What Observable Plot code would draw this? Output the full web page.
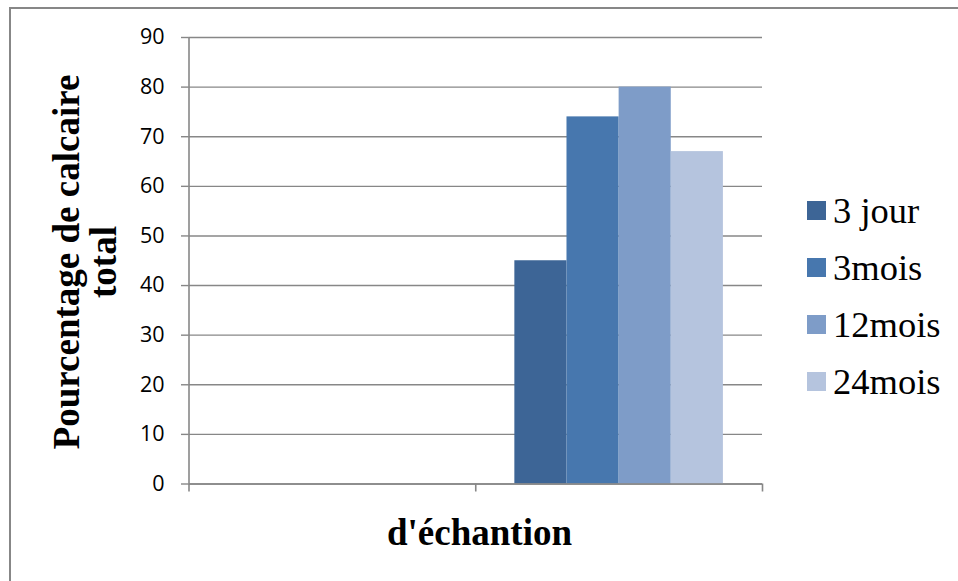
<!DOCTYPE html>
<html>
<head>
<meta charset="utf-8">
<script src="https://cdn.jsdelivr.net/npm/d3@7"></script>
<script src="https://cdn.jsdelivr.net/npm/@observablehq/plot@0.6"></script>
<style>
  body { margin: 0; background: #fff; }
  #chart { position: relative; width: 958px; height: 581px; overflow: hidden; background: #fff; }
  #chart svg { position: absolute; left: 0; top: 0; background: transparent; }
  .frame { position: absolute; left: 9px; top: 7px; width: 2000px; height: 2000px;
           border-left: 2px solid #878787; border-top: 2px solid #878787; }
  .ytitle, .xtitle, .lab { font-family: "Liberation Serif", "Times New Roman", serif; color: #000; }
  .ytitle { position: absolute; width: 500px; height: 74px; line-height: 37px; font-size: 37px;
            font-weight: bold; text-align: center; white-space: nowrap;
            left: calc(85px - 250px); top: calc(261.5px - 37px); transform: rotate(-90deg); }
  .xtitle { position: absolute; left: calc(479.5px - 300px); width: 600px; top: 512.5px;
            line-height: 40px; font-size: 37px; font-weight: bold; text-align: center; }
  .sw { position: absolute; left: 807px; width: 19px; height: 19px; }
  .lab { position: absolute; left: 833px; line-height: 40px; font-size: 36.5px; white-space: pre; }
</style>
</head>
<body>
<div id="chart"></div>
<script>
// Sample categories (unlabelled on the axis) and the four ageing series
const categories = ["", ""];
const series = ["3 jour", "3mois", "12mois", "24mois"];
const jour3  = [null, 45];
const mois3  = [null, 74];
const mois12 = [null, 80];
const mois24 = [null, 67];
const yTicks = [0, 10, 20, 30, 40, 50, 60, 70, 80, 90];
const colors = ["#3d6596", "#4777ae", "#7e9cc8", "#b5c4de"];

const seriesValues = [jour3, mois3, mois12, mois24];
const serifFont = '"Liberation Serif", "Times New Roman", serif';

// Clustered-column layout: bars side by side, with a gap of 150% of a bar width per category
const gapWidth = 1.5;
const barW = 1 / (series.length + gapWidth);
const rows = [];
categories.forEach((c, ci) => {
  series.forEach((s, si) => {
    const v = seriesValues[si][ci];
    if (v == null) return;
    const x1 = ci + (gapWidth / 2 + si) * barW;
    rows.push({category: c, series: s, value: v, x1, x2: x1 + barW});
  });
});

const axisGray = "#878787";

const plot = Plot.plot({
  width: 958,
  height: 581,
  marginLeft: 188.5,
  marginRight: 196,
  marginTop: 37,
  marginBottom: 97.5,
  style: {background: "transparent", fontFamily: "'Open Sans', sans-serif", color: "#000"},
  x: {domain: [0, categories.length], axis: null},
  y: {domain: [0, 90], axis: null},
  color: {domain: series, range: colors},
  marks: [
    Plot.ruleY(yTicks, {stroke: axisGray, strokeWidth: 1.4}),
    Plot.rect(rows, {x1: "x1", x2: "x2", y1: 0, y2: "value", fill: "series"}),
    Plot.ruleY([0], {stroke: axisGray, strokeWidth: 1.6}),
    Plot.ruleX([0], {stroke: axisGray, strokeWidth: 1.6}),
    Plot.axisY({ticks: yTicks, tickSize: 7.5, tickPadding: 17, fontSize: 21.5,
                stroke: axisGray, strokeWidth: 1.4, fill: "#000", label: null}),
    Plot.axisX({ticks: d3.range(categories.length + 1), tickSize: 8, tickFormat: () => "",
                stroke: axisGray, strokeWidth: 1.6, label: null})
  ]
});

const chart = document.getElementById("chart");
chart.appendChild(plot);

const frame = document.createElement("div");
frame.className = "frame";
chart.appendChild(frame);

const ytitle = document.createElement("div");
ytitle.className = "ytitle";
ytitle.style.fontFamily = serifFont;
ytitle.innerHTML = "Pourcentage de calcaire<br>total";
chart.appendChild(ytitle);

const xtitle = document.createElement("div");
xtitle.className = "xtitle";
xtitle.style.fontFamily = serifFont;
xtitle.textContent = "d'échantion";
chart.appendChild(xtitle);

// Legend: one swatch and label per series
series.forEach((s, i) => {
  const cy = 210 + i * 57;
  const sw = document.createElement("div");
  sw.className = "sw";
  sw.style.top = (cy - 9.5) + "px";
  sw.style.background = colors[i];
  chart.appendChild(sw);
  const lab = document.createElement("div");
  lab.className = "lab";
  lab.style.fontFamily = serifFont;
  lab.style.top = (cy - 19) + "px";
  lab.textContent = s;
  chart.appendChild(lab);
});
</script>
</body>
</html>
